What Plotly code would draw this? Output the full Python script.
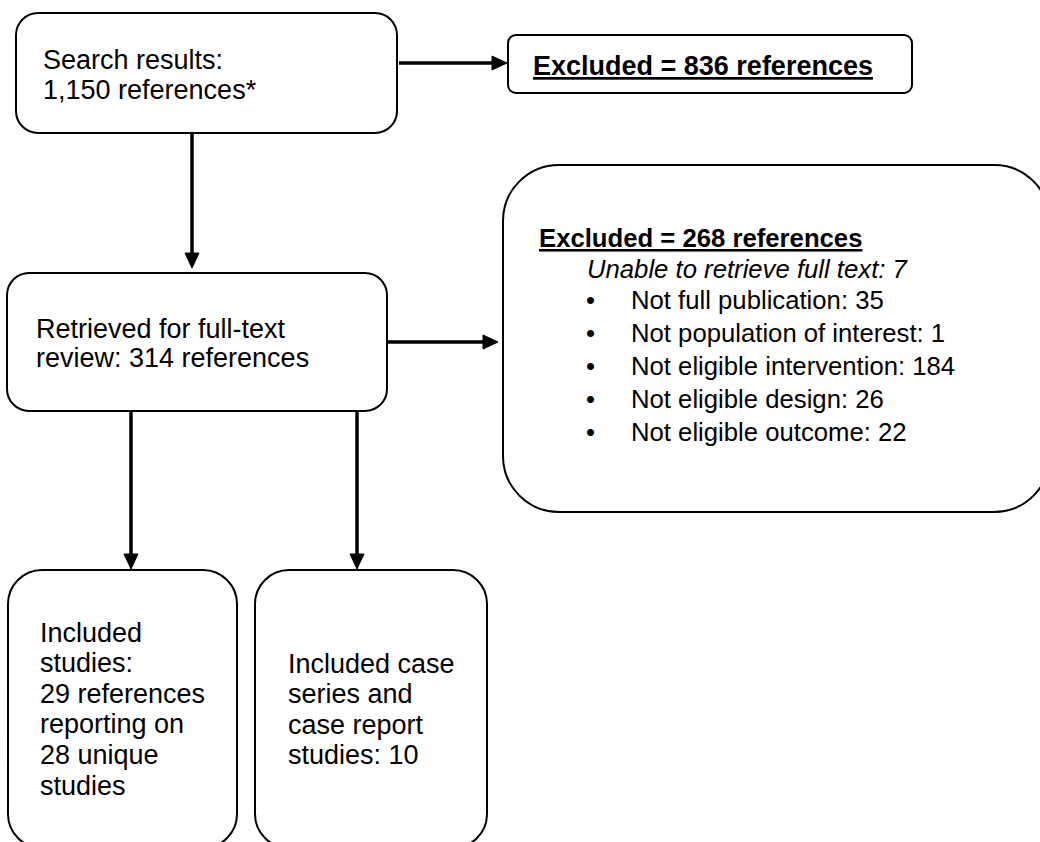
import plotly.graph_objects as go

# ---------------- data (texts and counts) ----------------
search_lines = ["Search results:", "1,150 references*"]
excluded_first = "Excluded = 836 references"
retrieved_lines = ["Retrieved for full-text", "review: 314 references"]
excluded_second = "Excluded = 268 references"
unable_line = "Unable to retrieve full text: 7"
reasons = ["Not full publication", "Not population of interest",
           "Not eligible intervention", "Not eligible design",
           "Not eligible outcome"]
reason_counts = [35, 1, 184, 26, 22]
included_lines = ["Included", "studies:", "29 references", "reporting on",
                  "28 unique", "studies"]
case_lines = ["Included case", "series and", "case report", "studies: 10"]

# ---------------- layout geometry (pixels) ----------------
W, H = 1040, 842
FONT = "Arial, 'Liberation Sans', sans-serif"
boxes = [
    dict(x0=16, y0=13, x1=397, y1=133, r=22),     # search
    dict(x0=508, y0=35, x1=912, y1=93, r=8),      # excluded 836
    dict(x0=7, y0=273, x1=387, y1=411, r=22),     # retrieved
    dict(x0=503, y0=165, x1=1050, y1=512, r=56),  # excluded 268
    dict(x0=8, y0=570, x1=237, y1=848, r=34),     # included studies
    dict(x0=255, y0=570, x1=487, y1=848, r=34),   # case series
]
arrows = [
    ((399, 63), (507, 63)),
    ((192, 133), (192, 268)),
    ((387, 342), (498, 342)),
    ((131, 411), (131, 569)),
    ((357, 411), (357, 569)),
]


def rrect(b):
    x0, y0, x1, y1, r = b["x0"], b["y0"], b["x1"], b["y1"], b["r"]
    k = 0.5523 * r
    return (f"M {x0+r},{y0} L {x1-r},{y0} "
            f"C {x1-r+k},{y0} {x1},{y0+r-k} {x1},{y0+r} "
            f"L {x1},{y1-r} C {x1},{y1-r+k} {x1-r+k},{y1} {x1-r},{y1} "
            f"L {x0+r},{y1} C {x0+r-k},{y1} {x0},{y1-r+k} {x0},{y1-r} "
            f"L {x0},{y0+r} C {x0},{y0+r-k} {x0+r-k},{y0} {x0+r},{y0} Z")


shapes = []
for b in boxes:
    shapes.append(dict(type="path", path=rrect(b), xref="x", yref="y",
                       line=dict(color="black", width=2), fillcolor="white",
                       layer="below"))

HEAD_L, HEAD_W = 15, 7
for (sx, sy), (tx, ty) in arrows:
    if sy == ty:  # horizontal
        bx = tx - HEAD_L
        shapes.append(dict(type="line", x0=sx, y0=sy, x1=bx + 1, y1=ty,
                           xref="x", yref="y",
                           line=dict(color="black", width=3.5)))
        shapes.append(dict(type="path", xref="x", yref="y",
                           path=f"M {bx},{ty-HEAD_W} L {tx},{ty} L {bx},{ty+HEAD_W} Z",
                           fillcolor="black", line=dict(color="black", width=1)))
    else:  # vertical
        by = ty - HEAD_L
        shapes.append(dict(type="line", x0=sx, y0=sy, x1=tx, y1=by + 1,
                           xref="x", yref="y",
                           line=dict(color="black", width=3.5)))
        shapes.append(dict(type="path", xref="x", yref="y",
                           path=f"M {tx-HEAD_W},{by} L {tx},{ty} L {tx+HEAD_W},{by} Z",
                           fillcolor="black", line=dict(color="black", width=1)))

annotations = []


def add_text(text, x, baseline, size, xanchor="left"):
    annotations.append(dict(
        text=text, x=x, y=baseline - 0.3465 * size, xref="x", yref="y",
        xanchor=xanchor, yanchor="middle", showarrow=False, borderpad=0,
        font=dict(family=FONT, size=size, color="black")))


FS_L = 27
FS_R = 25.7
for line, bl in zip(search_lines, [69, 99]):
    add_text(line, 42, bl, FS_L)
for line, bl in zip(retrieved_lines, [338, 367]):
    add_text(line, 35, bl, FS_L)
for i, line in enumerate(included_lines):
    add_text(line, 39, 642 + i * 30.6, FS_L)
for i, line in enumerate(case_lines):
    add_text(line, 287, 673 + i * 30.6, FS_L)

add_text(f"<b><u>{excluded_first}</u></b>", 532, 75, 27)
add_text(f"<b><u>{excluded_second}</u></b>", 538, 247, FS_R)
add_text(f"<i>{unable_line}</i>", 586, 278, FS_R)
for i, (reason, cnt) in enumerate(zip(reasons, reason_counts)):
    bl = 309 + i * 33
    add_text("\u2022", 590, bl, FS_R, xanchor="center")
    add_text(f"{reason}: {cnt}", 630, bl, FS_R)

fig = go.Figure()
fig.add_trace(go.Scatter(x=[0, W], y=[0, H], mode="markers",
                         marker=dict(opacity=0), hoverinfo="skip",
                         showlegend=False))
fig.update_layout(
    width=W, height=H, margin=dict(l=0, r=0, t=0, b=0),
    paper_bgcolor="white", plot_bgcolor="white",
    xaxis=dict(range=[0, W], visible=False, fixedrange=True),
    yaxis=dict(range=[H, 0], visible=False, fixedrange=True),
    shapes=shapes, annotations=annotations, showlegend=False,
)
fig.write_html(
    "out.html",
    config={"displayModeBar": False},
    post_script="document.body.style.margin='0';document.body.style.overflow='hidden';",
)
